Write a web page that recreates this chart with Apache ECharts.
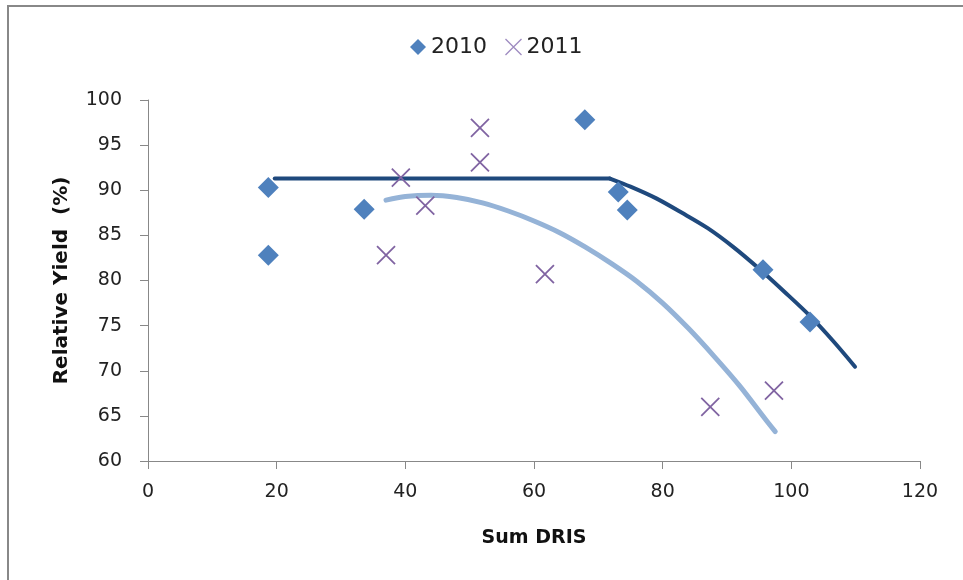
<!DOCTYPE html>
<html><head><meta charset="utf-8">
<script src="https://cdn.jsdelivr.net/npm/echarts@6/dist/echarts.min.js"></script>
<style>html,body{margin:0;padding:0;background:#fff}#c{width:963px;height:580px}</style>
</head><body><div id="c"></div>
<script>
// 2010 observations [Sum DRIS, Relative Yield]
const pts2010 = [[18.7,90.3],[18.7,82.8],[33.6,87.9],[67.9,97.8],[73.1,89.8],[74.5,87.8],[95.6,81.2],[102.9,75.4]];
// 2011 observations
const pts2011 = [[37.0,82.8],[39.3,91.4],[43.1,88.3],[51.6,96.9],[51.6,93.1],[61.7,80.7],[87.4,66.0],[97.3,67.8]];
// fitted curves, points
const fit2010Plateau = [[19.7,91.3],[71.8,91.3]];
const fit2010Curve = [[71.8,91.3],[75,90.4],[79,89.1],[83,87.5],[87,85.8],[91,83.7],[95,81.3],[99,78.7],[103,76.0],[106.5,73.3],[109.9,70.45]];
const fit2011Curve = [[37,88.9],[40,89.3],[44,89.45],[48,89.2],[52,88.6],[56,87.7],[60,86.6],[64,85.3],[68,83.7],[72,81.9],[76,79.9],[80,77.5],[84,74.7],[88,71.6],[92,68.3],[96,64.6],[97.5,63.25]];
const xTicks = {min:0, max:120, interval:20};
const yTicks = {min:60, max:100, interval:5};

const FONT = 'DejaVu Sans';
const xPath = 'path://M0,0L10,10M10,0L0,10';
const chart = echarts.init(document.getElementById('c'), null, {renderer:'canvas'});
chart.setOption({
  animation:false,
  backgroundColor:'#fff',
  textStyle:{fontFamily:FONT},
  graphic:[{type:'rect', shape:{x:8, y:6, width:1200, height:1200}, style:{fill:'none', stroke:'#888', lineWidth:2}, silent:true}],
  legend:{
    top:31, left:405, itemGap:16, itemWidth:16, itemHeight:16,
    textStyle:{fontFamily:FONT, fontSize:22, color:'#222'},
    data:[
      {name:'2010', icon:'diamond', itemStyle:{color:'#4F81BD'}},
      {name:'2011', icon:xPath, itemStyle:{color:'none', borderColor:'#9E8BC0', borderWidth:1.3}}
    ]
  },
  grid:{left:148, right:43, top:100, bottom:119, containLabel:false},
  xAxis:{
    type:'value', min:xTicks.min, max:xTicks.max, interval:xTicks.interval,
    name:'Sum DRIS', nameLocation:'middle', nameGap:68,
    nameTextStyle:{fontFamily:FONT, fontSize:19, fontWeight:'bold', color:'#111'},
    axisLine:{show:true, lineStyle:{color:'#888', width:1}},
    axisTick:{show:true, length:8, lineStyle:{color:'#888'}},
    axisLabel:{fontFamily:FONT, fontSize:19, color:'#222', margin:22},
    splitLine:{show:false}
  },
  yAxis:{
    type:'value', min:yTicks.min, max:yTicks.max, interval:yTicks.interval,
    name:'Relative Yield  (%)', nameLocation:'middle', nameGap:76, nameRotate:90,
    nameTextStyle:{fontFamily:FONT, fontSize:20, fontWeight:'bold', color:'#111'},
    axisLine:{show:true, lineStyle:{color:'#888', width:1}},
    axisTick:{show:true, length:8, lineStyle:{color:'#888'}},
    axisLabel:{fontFamily:FONT, fontSize:19, color:'#222', margin:26},
    splitLine:{show:false}
  },
  series:[
    {name:'fit2011', type:'line', data:fit2011Curve, smooth:0.3, showSymbol:false, symbol:'none',
     lineStyle:{color:'#95B3D7', width:5, cap:'round'}, z:2, silent:true},
    {name:'fit2010a', type:'line', data:fit2010Plateau, showSymbol:false, symbol:'none',
     lineStyle:{color:'#1F497D', width:4, cap:'round'}, z:2, silent:true},
    {name:'fit2010b', type:'line', data:fit2010Curve, smooth:0.3, showSymbol:false, symbol:'none',
     lineStyle:{color:'#1F497D', width:4, cap:'round'}, z:2, silent:true},
    {name:'2010', type:'scatter', data:pts2010, symbol:'diamond', symbolSize:21,
     itemStyle:{color:'#4F81BD', opacity:1}, z:3},
    {name:'2011', type:'scatter', data:pts2011, symbol:xPath, symbolSize:18,
     itemStyle:{color:'none', borderColor:'#8064A2', borderWidth:1.8, opacity:1}, z:3}
  ]
});
</script></body></html>
